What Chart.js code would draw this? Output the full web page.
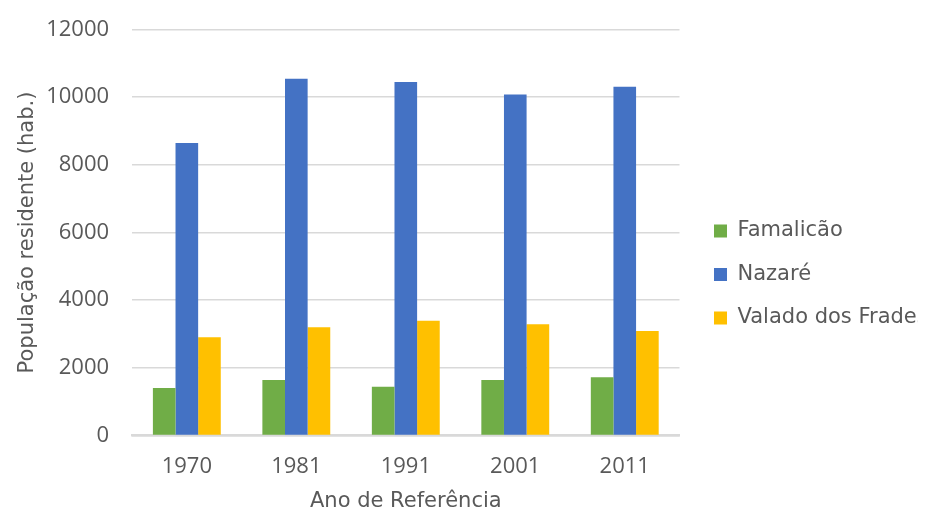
<!DOCTYPE html>
<html>
<head>
<meta charset="utf-8">
<script src="https://cdn.jsdelivr.net/npm/chart.js@4/dist/chart.umd.min.js"></script>
<style>
  html, body { margin: 0; padding: 0; background: #ffffff; overflow: hidden; }
  #wrap { width: 932px; height: 511px; }
  #c { display: block; }
</style>
</head>
<body>
<div id="wrap"><canvas id="c" width="932" height="511"></canvas></div>
<script>
// Resident population by census year
const years = ['1970', '1981', '1991', '2001', '2011'];
const famalicao = [1400, 1640, 1440, 1640, 1720];
const nazare = [8650, 10550, 10450, 10080, 10310];
const valadoDosFrades = [2900, 3200, 3390, 3290, 3085];
const yTicks = [0, 2000, 4000, 6000, 8000, 10000, 12000];

const textColor = '#595959';
const labelFont = '"DejaVu Sans", "Open Sans", sans-serif';
const tickFont = '"Open Sans", "DejaVu Sans", sans-serif';

// Extra gap between the plot area and the legend, without moving the legend itself
const LEGEND_GAP = 12;
const legendGap = {
  id: 'legendGap',
  beforeLayout(chart) {
    const lg = chart.legend;
    if (lg && !lg._gapWrapped) {
      const fit = lg.fit.bind(lg);
      lg.fit = function () { fit(); this.width += LEGEND_GAP; };
      lg._gapWrapped = true;
    }
  },
  afterLayout(chart) {
    const lg = chart.legend;
    if (lg) { lg.left += LEGEND_GAP; }
  }
};

new Chart(document.getElementById('c'), {
  type: 'bar',
  data: {
    labels: years,
    datasets: [
      { label: 'Famalicão', data: famalicao, backgroundColor: '#70ad47' },
      { label: 'Nazaré', data: nazare, backgroundColor: '#4472c4' },
      { label: 'Valado dos Frades', data: valadoDosFrades, backgroundColor: '#ffc000' }
    ]
  },
  plugins: [legendGap],
  options: {
    responsive: false,
    animation: false,
    layout: { padding: { top: 2, left: 12, right: 14, bottom: -3 } },
    datasets: { bar: { categoryPercentage: 0.62, barPercentage: 1.0, borderWidth: 0 } },
    plugins: {
      legend: {
        position: 'right',
        align: 'center',
        title: { display: true, text: ' ', font: { size: 10 }, padding: { top: 10.5, bottom: 10.5 } },
        labels: {
          color: textColor,
          font: { family: labelFont, size: 21 },
          boxWidth: 13,
          boxHeight: 13,
          padding: 22.5
        }
      },
      tooltip: { enabled: false }
    },
    scales: {
      x: {
        grid: { display: false, drawTicks: false },
        border: { color: '#d9d9d9', width: 2.5 },
        ticks: { color: textColor, font: { family: tickFont, size: 22 }, padding: 18 },
        title: { display: true, text: 'Ano de Referência', color: textColor, font: { family: labelFont, size: 21 }, padding: { top: -9, bottom: 0 } }
      },
      y: {
        min: 0,
        max: 12000,
        afterBuildTicks: (axis) => { axis.ticks = yTicks.map(v => ({ value: v })); },
        grid: { color: '#d9d9d9', lineWidth: 1.5, drawTicks: false },
        border: { display: false },
        ticks: { color: textColor, font: { family: tickFont, size: 22, lineHeight: 0.6 }, padding: 23, callback: (v) => String(v) },
        title: { display: true, text: 'População residente (hab.)', color: textColor, font: { family: labelFont, size: 21 }, padding: { top: 3, bottom: -17 } }
      }
    }
  }
});
</script>
</body>
</html>
